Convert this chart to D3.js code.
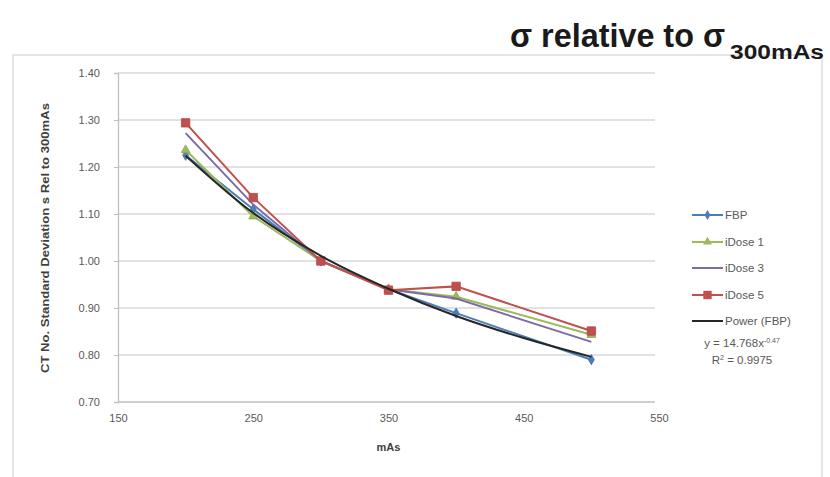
<!DOCTYPE html>
<html>
<head>
<meta charset="utf-8">
<script src="https://cdn.jsdelivr.net/npm/d3@7"></script>
<style>
  body { margin: 0; background: #fff; }
  svg { display: block; }
</style>
</head>
<body>
<script>
  // values
  const mAs = [200, 250, 300, 350, 400, 500];
  const fbp = [1.225, 1.11, 1.0, 0.94, 0.889, 0.79];
  const idose1 = [1.236, 1.095, 1.0, 0.94, 0.924, 0.843];
  const idose3 = [1.272, 1.12, 1.0, 0.94, 0.92, 0.828];
  const idose5 = [1.294, 1.135, 1.0, 0.938, 0.946, 0.851];
  // power trendline (FBP)
  const trendX = [200, 250, 300, 350, 400, 450, 500];
  const trendY = [1.224, 1.102, 1.011, 0.941, 0.883, 0.836, 0.796];

  const xTicks = [150, 250, 350, 450, 550];
  const yTicks = [0.7, 0.8, 0.9, 1.0, 1.1, 1.2, 1.3, 1.4];
  const seriesNames = ["FBP", "iDose 1", "iDose 3", "iDose 5", "Power (FBP)"];

  const W = 830, H = 477;
  const svg = d3.select("body").append("svg").attr("width", W).attr("height", H);

  const x = d3.scaleLinear().domain([150, 550]).range([118, 659]);
  const y = d3.scaleLinear().domain([0.7, 1.4]).range([402, 73]);

  // chart frame
  svg.append("rect")
    .attr("x", 13).attr("y", 55).attr("width", 809).attr("height", 440)
    .attr("fill", "#fff").attr("stroke", "#d4d4d4").attr("stroke-width", 1.2);

  // title (condensed bold face, squeezed to the width seen in the picture)
  const titleFont = "'Liberation Sans', Arial, sans-serif";
  svg.append("text")
    .attr("x", 510).attr("y", 47)
    .attr("font-family", titleFont).attr("font-weight", "bold")
    .attr("font-size", 34).attr("fill", "#1a1a1a")
    .attr("textLength", 215).attr("lengthAdjust", "spacingAndGlyphs")
    .text("σ relative to σ");
  svg.append("text")
    .attr("x", 730).attr("y", 59)
    .attr("font-family", titleFont).attr("font-weight", "bold")
    .attr("font-size", 20).attr("fill", "#1a1a1a")
    .attr("textLength", 94).attr("lengthAdjust", "spacingAndGlyphs")
    .text("300mAs");

  // gridlines
  svg.append("g")
    .selectAll("line")
    .data(yTicks.slice(1))
    .join("line")
    .attr("x1", x(150)).attr("x2", 655)
    .attr("y1", (d) => y(d)).attr("y2", (d) => y(d))
    .attr("stroke", "#d9d9d9").attr("stroke-width", 1.3);

  // axes
  const axisFont = "'Liberation Sans', Arial, sans-serif";
  const yAxis = svg.append("g")
    .attr("transform", `translate(${x(150)},0)`)
    .call(d3.axisLeft(y).tickValues(yTicks).tickFormat(d3.format(".2f")).tickSize(4).tickPadding(14));
  const xAxis = svg.append("g")
    .attr("transform", `translate(0,${y(0.7)})`)
    .call(d3.axisBottom(x).tickValues(xTicks).tickSize(0).tickPadding(12));
  [xAxis, yAxis].forEach((g) => {
    g.select(".domain").attr("stroke", "#bfbfbf").attr("stroke-width", 1.3);
    g.selectAll(".tick line").attr("stroke", "#bfbfbf");
    g.selectAll("text")
      .attr("font-family", axisFont)
      .attr("font-size", 11)
      .attr("fill", "#595959");
  });
  xAxis.select(".domain").attr("d", `M${x(150)},0H655`);

  svg.append("text")
    .attr("x", x(350)).attr("y", 451)
    .attr("text-anchor", "middle")
    .attr("font-family", axisFont).attr("font-weight", "bold")
    .attr("font-size", 11).attr("fill", "#404040")
    .text("mAs");

  svg.append("text")
    .attr("transform", "translate(49,238) rotate(-90)")
    .attr("text-anchor", "middle")
    .attr("font-family", axisFont).attr("font-weight", "bold")
    .attr("font-size", 10).attr("fill", "#404040")
    .attr("textLength", 270).attr("lengthAdjust", "spacingAndGlyphs")
    .text("CT No. Standard Deviation s Rel to 300mAs");

  // series
  const series = [
    { name: seriesNames[0], vals: fbp, color: "#4a7ebb", marker: d3.symbolDiamond, size: 30 },
    { name: seriesNames[1], vals: idose1, color: "#9bbb59", marker: d3.symbolTriangle, size: 35 },
    { name: seriesNames[2], vals: idose3, color: "#7d6ba8", marker: null, size: 0 },
    { name: seriesNames[3], vals: idose5, color: "#c0504d", marker: d3.symbolSquare, size: 70 },
  ];

  const line = d3.line().x((d) => x(d[0])).y((d) => y(d[1]));

  series.forEach((s) => {
    const pts = mAs.map((m, i) => [m, s.vals[i]]);
    svg.append("path")
      .attr("d", line(pts))
      .attr("fill", "none")
      .attr("stroke", s.color)
      .attr("stroke-width", 2);
    if (s.marker) {
      svg.append("g")
        .selectAll("path")
        .data(pts)
        .join("path")
        .attr("transform", (d) => `translate(${x(d[0])},${y(d[1])})`)
        .attr("d", d3.symbol(s.marker, s.size))
        .attr("fill", s.color)
        .attr("stroke", d3.color(s.color).darker(0.3))
        .attr("stroke-width", 0.8);
    }
  });

  // trendline
  svg.append("path")
    .attr("d", line.curve(d3.curveMonotoneX)(trendX.map((m, i) => [m, trendY[i]])))
    .attr("fill", "none")
    .attr("stroke", "#262626")
    .attr("stroke-width", 2);

  // legend
  const legend = svg.append("g").attr("font-family", axisFont).attr("font-size", 11.5).attr("fill", "#595959");
  const legendY = [215, 242, 268, 295, 321];
  const legendItems = series.concat([{ name: seriesNames[4], color: "#262626", marker: null, size: 0 }]);
  legendItems.forEach((s, i) => {
    const g = legend.append("g").attr("transform", `translate(692,${legendY[i]})`);
    g.append("line").attr("x1", 0).attr("x2", 31).attr("stroke", s.color).attr("stroke-width", 2);
    if (s.marker) {
      g.append("path")
        .attr("transform", "translate(15.5,0)")
        .attr("d", d3.symbol(s.marker, s.size))
        .attr("fill", s.color);
    }
    g.append("text").attr("x", 33).attr("dy", "0.35em").text(s.name);
  });
  const eq = legend.append("text").attr("x", 742).attr("y", 347).attr("text-anchor", "middle");
  eq.append("tspan").text("y = 14.768x");
  eq.append("tspan").attr("font-size", 7).attr("dy", -4).text("-0.47");
  const r2 = legend.append("text").attr("x", 742).attr("y", 364).attr("text-anchor", "middle");
  r2.append("tspan").text("R");
  r2.append("tspan").attr("font-size", 7).attr("dy", -4).text("2");
  r2.append("tspan").attr("dy", 4).text(" = 0.9975");
</script>
</body>
</html>
